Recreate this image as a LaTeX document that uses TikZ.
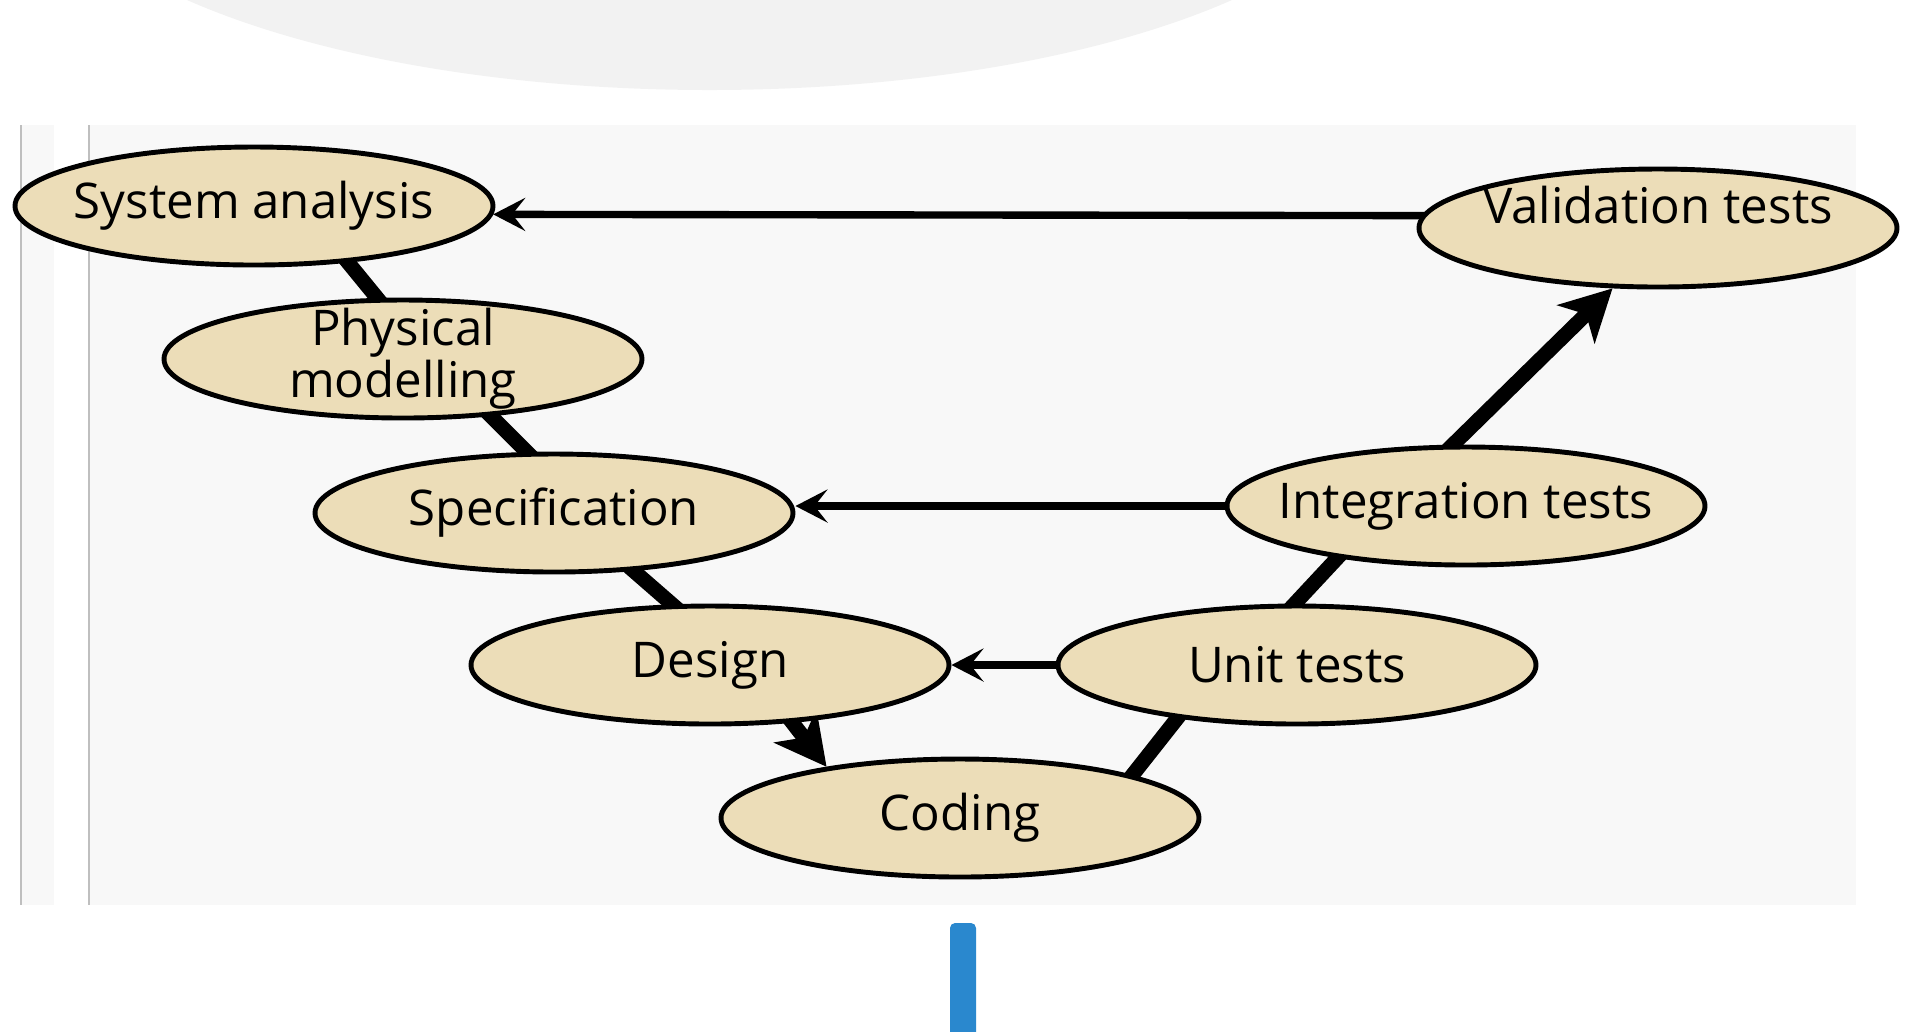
\documentclass[tikz,border=0pt]{standalone}
\usepackage{fontspec}
\setmainfont{Open Sans}
\usetikzlibrary{arrows.meta, shapes.geometric}
\definecolor{parch}{RGB}{236,221,184}
\definecolor{panelgray}{RGB}{248,248,248}
\definecolor{barblue}{RGB}{42,136,206}
\pgfdeclarelayer{back}
\pgfdeclarelayer{links}
\pgfsetlayers{back,links,main}

\begin{document}
\begin{tikzpicture}[x=0.1mm, y=-0.1mm,
  phase/.style={ellipse, draw, line width=1.4pt, fill=parch, minimum width=47.8mm, minimum height=11.8mm, inner sep=0pt},
  lab/.style={align=center, inner sep=0pt, font=\fontsize{14}{14.8}\selectfont},
  link/.style={line width=4.2pt, shorten <=-1mm, shorten >=-1mm},
  uplink/.style={line width=4.2pt, shorten <=-1mm, -{Stealth[length=5.1mm, width=5.3mm, inset=1.4mm]}},
  backlink/.style={line width=2.1pt, shorten <=-1mm, -{Stealth[length=3.2mm, width=3.3mm, inset=1.3mm]}}]
\useasboundingbox (0,0) rectangle (1920,1031);

\begin{pgfonlayer}{back}
\begin{scope}
\clip (0,0) rectangle (1920,1031);
\fill[black!5] (709.5,-160) ellipse [x radius=68mm, y radius=25mm];
\fill[panelgray] (21,125) rectangle (1856,905);
\fill[white] (54,125) rectangle (89,905);
\draw[black!25, line width=0.6pt] (21,125) -- (21,905) (89,125) -- (89,905);
\fill[barblue, rounded corners=0.5mm] (950,923) rectangle (976,1060);
\end{scope}
\end{pgfonlayer}

% the V
\node[phase, label={[lab]center:System analysis}] (sa) at (254,206) {};
\node[phase, label={[lab]center:Physical\\modelling}] (pm) at (403,359) {};
\node[phase, label={[lab]center:Specification}] (spec) at (554,513) {};
\node[phase, label={[lab]center:Design}] (design) at (710,665) {};
\node[phase, label={[lab]center:Coding}] (coding) at (960,818) {};
\node[phase, label={[lab]center:Unit tests}] (unit) at (1297,665) {};
\node[phase, label={[lab]center:Integration tests}] (integ) at (1466,506) {};
\node[phase, label={[lab, yshift=2.3mm]center:Validation tests}] (valid) at (1658,228) {};

\begin{pgfonlayer}{links}
\draw[link] (sa.-31.5) -- (pm.113);
\draw[link] (pm.-33.7) -- (spec.114);
\draw[link] (spec.-36.7) -- (design.122.5);
\draw[uplink] (design.-35) -- (coding.159.5);
\draw[link] (coding.14.8) -- (unit.-156.6);
\draw[link] (unit.92) -- (integ.-158.3);
\draw[uplink] (integ.102) -- (valid.-127.6);
% back arrows
\draw[backlink] (valid.177.4) -- (sa.-2);
\draw[backlink] (integ.west) -- (integ.west -| spec.east);
\draw[backlink] (unit.west) -- (design.east);
\end{pgfonlayer}
\end{tikzpicture}
\end{document}
